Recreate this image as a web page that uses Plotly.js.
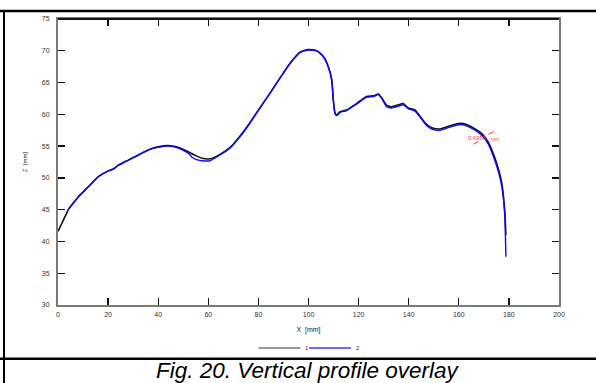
<!DOCTYPE html>
<html>
<head>
<meta charset="utf-8">
<script src="https://cdn.plot.ly/plotly-3.0.1.min.js"></script>
<style>
html,body{margin:0;padding:0;background:#fff;}
#chart{width:596px;height:383px;}
</style>
</head>
<body>
<div id="chart"></div>
<script>
// ---- data ----
const seriesNames = ["1", "2"];
const x1 = [0, 2.8, 4.1, 8.1, 12.1, 16.1, 20.1, 22.1, 24.1, 28.1, 32.1, 36, 40, 44, 48, 52, 55, 57.4, 60.7, 64.7, 68.7, 72.7, 76.6, 80.6, 84.6, 88.6, 92.6, 96.6, 99.9, 103.3, 105.9, 107.9, 109.3, 109.9, 110.6, 111.3, 112.6, 115.2, 119.2, 123.2, 125.9, 127.9, 129.2, 131.2, 133.2, 135.9, 137.8, 139.8, 142.5, 144.5, 147.2, 149.8, 152.5, 156.5, 160.5, 163.1, 166.5, 169.1, 171.8, 173.8, 175.8, 177.1, 177.8, 178.4, 178.8];
const z1 = [41.6, 43.9, 45.0, 47.0, 48.6, 50.2, 51.1, 51.4, 52.0, 52.8, 53.6, 54.4, 54.9, 55.1, 54.8, 54.1, 53.5, 53.1, 53.0, 53.7, 54.8, 56.6, 58.7, 61.0, 63.3, 65.7, 68.0, 69.8, 70.2, 70.0, 69.1, 67.5, 65.4, 62.3, 60.2, 59.9, 60.4, 60.7, 61.7, 62.8, 62.9, 63.2, 62.6, 61.4, 61.2, 61.5, 61.7, 61.0, 60.7, 59.7, 58.4, 57.8, 57.7, 58.2, 58.6, 58.4, 57.7, 57.0, 55.6, 53.8, 51.4, 49.3, 47.2, 44.5, 41.0];
const x2 = [4.1, 8.1, 12.1, 16.1, 20.1, 22.1, 24.1, 28.1, 32.1, 36, 40, 44, 48, 52, 53.4, 55, 57.4, 60.7, 64.7, 68.7, 72.7, 76.6, 80.6, 84.6, 88.6, 92.6, 96.6, 99.9, 103.3, 105.9, 107.9, 109.3, 109.9, 110.6, 111.3, 112.6, 115.2, 119.2, 123.2, 125.9, 127.9, 129.2, 131.2, 133.2, 135.9, 137.8, 139.8, 142.5, 144.5, 147.2, 149.8, 152.5, 156.5, 160.5, 163.1, 166.5, 169.1, 171.8, 173.8, 175.8, 177.1, 177.8, 178.4, 178.6, 178.8];
const z2 = [45.0, 47.0, 48.6, 50.2, 51.1, 51.4, 52.0, 52.8, 53.6, 54.4, 54.8, 55.0, 54.7, 53.9, 53.3, 52.9, 52.7, 52.7, 53.6, 54.7, 56.5, 58.6, 61.0, 63.3, 65.7, 68.0, 69.7, 70.1, 70.0, 69.1, 67.5, 65.4, 62.3, 60.1, 59.8, 60.3, 60.6, 61.6, 62.7, 62.8, 63.1, 62.5, 61.2, 61.0, 61.3, 61.5, 60.9, 60.5, 59.6, 58.2, 57.6, 57.5, 58.0, 58.4, 58.2, 57.5, 56.7, 55.3, 53.4, 51.0, 48.8, 46.8, 43.9, 41.0, 37.6];
const deviationLabel = "0.6951";
const deviationUnit = "mm";
const xTitle = "X  [mm]";
const yTitle = "Z  [mm]";
const caption = "Fig. 20. Vertical profile overlay";

// ---- layout helpers (pixel -> paper) ----
const W = 596, H = 383, L = 58, R = 559, T = 19, B = 305;
const px = v => (v - L) / (R - L);
const py = v => (B - v) / (B - T);
const FONT = "Liberation Sans, Arial, sans-serif";

const traces = [
  {x: x1, y: z1, name: seriesNames[0], mode: "lines", showlegend: false,
   line: {color: "#111111", width: 1.6, shape: "spline", smoothing: 0.5}},
  {x: x2, y: z2, name: seriesNames[1], mode: "lines", showlegend: false,
   line: {color: "#0a0aff", width: 1.4, shape: "spline", smoothing: 0.5}}
];

const axisCommon = {
  showgrid: false, zeroline: false, showline: true, linecolor: "#7a7a7a", linewidth: 2,
  ticks: "inside", ticklen: 7, tickwidth: 1.3, tickcolor: "#111", mirror: "ticks",
  tickfont: {family: FONT, size: 7, color: "#333"}
};

const layout = {
  width: W, height: H,
  margin: {l: L, r: W - R, t: T, b: H - B, pad: 0},
  paper_bgcolor: "#fff", plot_bgcolor: "#fff",
  showlegend: false,
  xaxis: Object.assign({}, axisCommon, {
    range: [0, 200], dtick: 20, tick0: 0, ticklabelstandoff: 2,
    title: {text: xTitle, standoff: 10, font: {family: FONT, size: 7, color: "#222"}}
  }),
  yaxis: Object.assign({}, axisCommon, {
    range: [30, 75], dtick: 5, tick0: 30, ticklabelstandoff: 5,
    title: {text: yTitle, standoff: 14, font: {family: FONT, size: 6, color: "#222"}}
  }),
  shapes: [
    {type: "line", xref: "paper", yref: "paper", x0: 0, x1: 1, y0: 1, y1: 1, line: {color: "#111", width: 2}},
    {type: "line", xref: "paper", yref: "paper", x0: px(0), x1: px(W), y0: py(11), y1: py(11), line: {color: "#000", width: 2.5}},
    {type: "line", xref: "paper", yref: "paper", x0: px(4), x1: px(4), y0: py(11), y1: py(H + 2), line: {color: "#000", width: 2}},
    {type: "line", xref: "paper", yref: "paper", x0: px(0), x1: px(W), y0: py(358.8), y1: py(358.8), line: {color: "#000", width: 2.5}},
    {type: "line", xref: "paper", yref: "paper", x0: px(258.5), x1: px(300.5), y0: py(348), y1: py(348), line: {color: "#333", width: 1.2}},
    {type: "line", xref: "paper", yref: "paper", x0: px(309), x1: px(351), y0: py(348), y1: py(348), line: {color: "#3a3aff", width: 1.4}},
    {type: "line", xref: "x", yref: "y", x0: 165.8, y0: 55.29, x1: 167.8, y1: 55.70, line: {color: "#ff3030", width: 1}},
    {type: "line", xref: "x", yref: "y", x0: 171.8, y0: 56.86, x1: 174.0, y1: 57.27, line: {color: "#ff3030", width: 1}}
  ],
  annotations: [
    {xref: "x", yref: "y", x: 167.3, y: 56.2, xanchor: "center", yanchor: "middle", text: deviationLabel, showarrow: false,
     font: {family: FONT, size: 6, color: "#ff3a3a"}},
    {xref: "x", yref: "y", x: 174.5, y: 56.1, xanchor: "center", yanchor: "middle", text: deviationUnit, showarrow: false,
     font: {family: FONT, size: 5, color: "#ff3a3a"}},
    {xref: "paper", yref: "paper", x: px(303), y: py(348), xanchor: "left", yanchor: "middle", text: seriesNames[0], showarrow: false,
     font: {family: FONT, size: 6, color: "#333"}},
    {xref: "paper", yref: "paper", x: px(353.5), y: py(348), xanchor: "left", yanchor: "middle", text: seriesNames[1], showarrow: false,
     font: {family: FONT, size: 6, color: "#333"}},
    {xref: "paper", yref: "paper", x: px(307.5), y: py(370), xanchor: "center", yanchor: "middle", text: "<i>" + caption + "</i>", showarrow: false,
     font: {family: FONT, size: 22.5, color: "#000"}}
  ]
};

Plotly.newPlot("chart", traces, layout, {displayModeBar: false, staticPlot: true});
</script>
</body>
</html>
